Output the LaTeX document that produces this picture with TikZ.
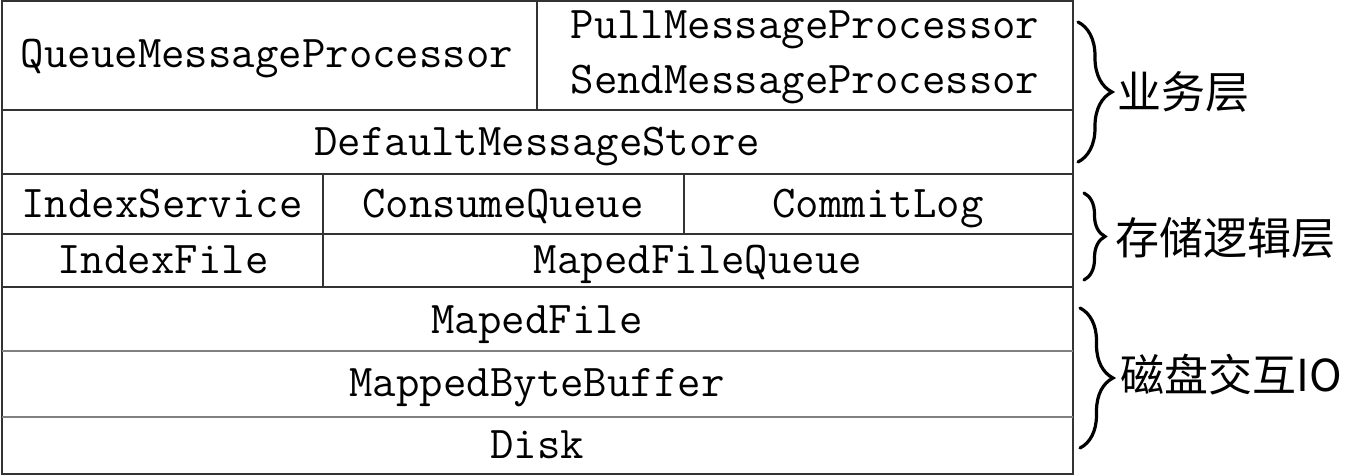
\documentclass[tikz,border=0pt]{standalone}
\usepackage{fontspec}
\newfontfamily\cjkfont{Noto Sans CJK SC}
\usetikzlibrary{decorations.pathreplacing}

\tikzset{
  cell/.style={font=\ttfamily\fontsize{45.5}{54}\selectfont, inner sep=0pt, anchor=base},
  rule/.style={draw=black!80, line width=1.8pt},
  softrule/.style={draw=black!50, line width=1.8pt},
  layerbrace/.style={decorate, decoration={brace, amplitude=#1}, line width=3.2pt, line cap=round},
  layer/.style={font=\cjkfont\fontsize{44}{44}\selectfont, anchor=west, inner sep=0pt}
}

\begin{document}
\begin{tikzpicture}[x=1pt,y=-1pt]
\useasboundingbox[fill=white] (0,0) rectangle (1364,476);
% table frame and rows
\draw[rule] (2,1) rectangle (1073,474);
\draw[rule] (2,110) -- (1073,110);
\draw[rule] (2,174) -- (1073,174);
\draw[rule] (2,234) -- (1073,234);
\draw[rule] (2,287) -- (1073,287);
\draw[softrule] (2,351) -- (1073,351);
\draw[softrule] (2,417) -- (1073,417);
% columns
\draw[rule] (537,1) -- (537,110);
\draw[rule] (323,174) -- (323,287);
\draw[rule] (684,174) -- (684,234);
% cells (placed on their baselines)
\node[cell] (qmp) at (267,68) {QueueMessageProcessor};
\node[cell] (pmp) at (805,39) {PullMessageProcessor};
\node[cell] (smp) at (805,94) {SendMessageProcessor};
\node[cell] (dms) at (537,155) {DefaultMessageStore};
\node[cell] (isvc) at (162,217) {IndexService};
\node[cell] (cq) at (503,217) {ConsumeQueue};
\node[cell] (clog) at (878,217) {CommitLog};
\node[cell] (ifile) at (163,273) {IndexFile};
\node[cell] (mfq) at (698,273) {MapedFileQueue};
\node[cell] (mfile) at (537,333) {MapedFile};
\node[cell] (mbb) at (537,396) {MappedByteBuffer};
\node[cell] (disk) at (537,458) {Disk};
% layers
\draw[layerbrace=34] (1078,22) -- (1078,162);
\draw[layerbrace=21] (1084,193) -- (1084,280);
\draw[layerbrace=33] (1080,308) -- (1080,448);
\node[layer] (biz) at (1117,92) {业务层};
\node[layer] (store) at (1115,238) {存储逻辑层};
\node[layer] (io) at (1120,375) {磁盘交互IO};
\end{tikzpicture}
\end{document}
